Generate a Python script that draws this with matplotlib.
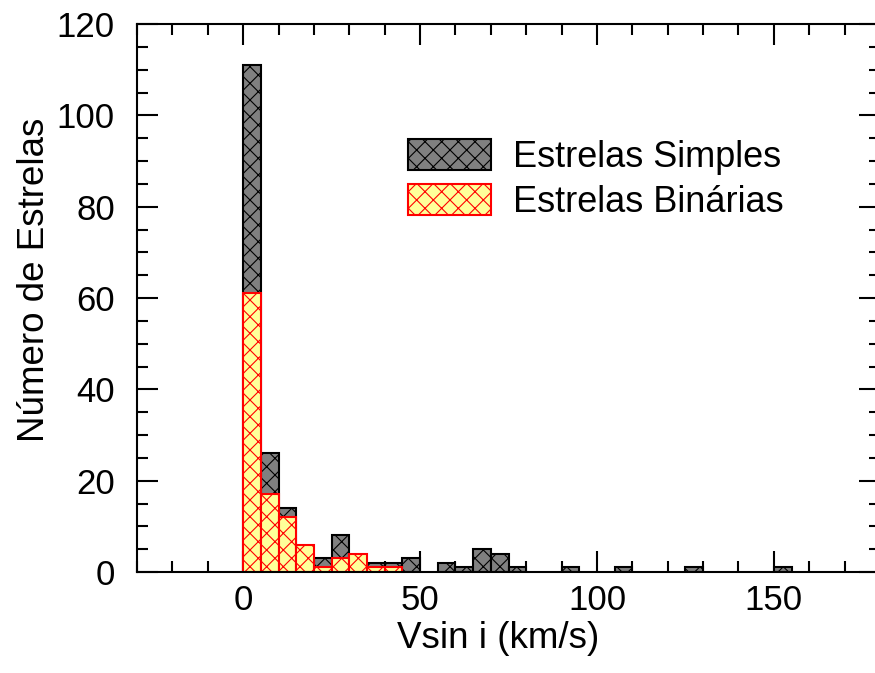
import numpy as np
import matplotlib
matplotlib.use("Agg")
import matplotlib.pyplot as plt
from matplotlib.ticker import MultipleLocator
from matplotlib.patches import Patch

# dados do histograma (largura de bin = 5 km/s)
bin_width = 5
bin_left = np.arange(0, 155, bin_width)
simples = [111, 26, 14, 0, 3, 8, 0, 2, 2, 3, 0, 2, 1, 5, 4, 1,
           0, 0, 1, 0, 0, 1, 0, 0, 0, 1, 0, 0, 0, 0, 1]
binarias = [61, 17, 12, 6, 1, 3, 4, 1, 1]
labels = ["Estrelas Simples", "Estrelas Binárias"]

plt.rcParams["font.family"] = ["Liberation Sans", "DejaVu Sans"]
plt.rcParams["hatch.linewidth"] = 0.8

fig = plt.figure(figsize=(8.75, 6.73), dpi=100)
ax = fig.add_axes([137 / 875, 1 - 572 / 673, (880 - 137) / 875, (572 - 24) / 673])

simples = np.array(simples)
binarias = np.array(binarias)
m1 = simples > 0
ax.bar(bin_left[m1], simples[m1], width=bin_width, align="edge",
       color="#808080", edgecolor="black", linewidth=1.5, hatch="xx", zorder=2)
xb = bin_left[:len(binarias)]
m2 = binarias > 0
ax.bar(xb[m2], binarias[m2], width=bin_width, align="edge",
       color="#ffff99", edgecolor="red", linewidth=1.5, hatch="xx", zorder=3)

ax.set_xlim(-30, 180)
ax.set_ylim(0, 120)
ax.xaxis.set_major_locator(MultipleLocator(50))
ax.xaxis.set_minor_locator(MultipleLocator(10))
ax.yaxis.set_major_locator(MultipleLocator(20))
ax.yaxis.set_minor_locator(MultipleLocator(5))
ax.tick_params(which="both", direction="in", top=True, right=True, width=1.5,
               labelsize=25)
ax.tick_params(which="major", length=15)
ax.tick_params(which="minor", length=8)
ax.tick_params(axis="x", which="major", pad=9)
ax.tick_params(axis="y", which="major", pad=16)
for s in ax.spines.values():
    s.set_linewidth(1.5)
    s.set_zorder(5)

ax.set_xlabel("Vsin i (km/s)", fontsize=26.5)
ax.set_ylabel("Número de Estrelas", fontsize=26.5)
ax.xaxis.set_label_coords(0.486, -0.09)
ax.yaxis.set_label_coords(-0.115, 0.533)

handles = [Patch(facecolor="#808080", edgecolor="black", hatch="xx", linewidth=1.5),
           Patch(facecolor="#ffff99", edgecolor="red", hatch="xx", linewidth=1.5)]
ax.legend(handles, labels, loc="upper left", bbox_to_anchor=(0.365, 0.79),
          frameon=False, fontsize=26, handlelength=2.3, handleheight=0.95,
          handletextpad=0.6, labelspacing=0.25, borderpad=0, borderaxespad=0)

fig.savefig("out.png", dpi=100)
